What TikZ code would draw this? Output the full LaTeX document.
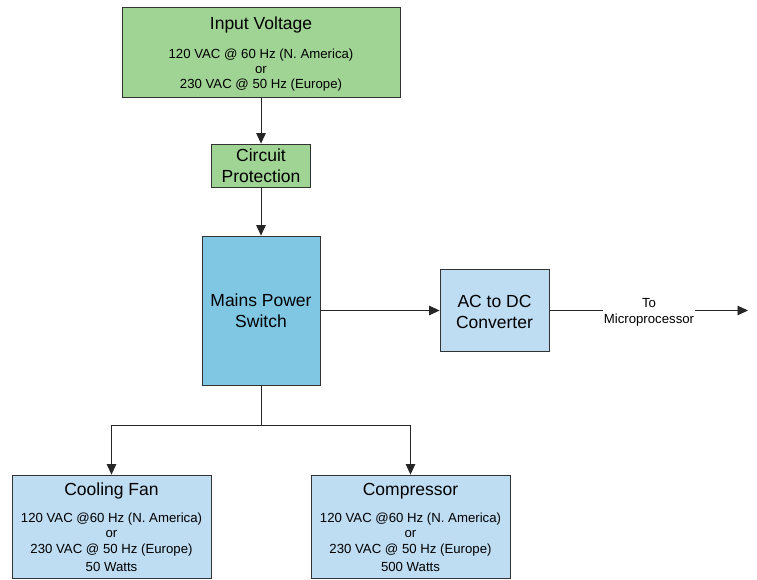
\documentclass[tikz,border=0pt]{standalone}
\usepackage{fontspec}
\setmainfont{Liberation Sans}
\usetikzlibrary{arrows.meta}
\definecolor{gfill}{RGB}{160,212,148}
\definecolor{mfill}{RGB}{127,199,227}
\definecolor{lfill}{RGB}{190,220,242}
\newcommand{\ttlfont}{\fontsize{17.5}{21}\selectfont}
\newcommand{\bdyfont}{\fontsize{13.2}{15.5}\selectfont}
\begin{document}
\begin{tikzpicture}[x=1pt,y=-1pt,
 box/.style={draw=black!80, line width=0.8pt, align=center, inner sep=0pt, font=\bdyfont},
 conn/.style={draw=black!85, line width=0.9pt},
 arr/.style={conn,-{Triangle[length=10.5pt,width=9.5pt]}}]
\useasboundingbox (0,0) rectangle (757,580);

\node[box, fill=gfill, minimum width=278pt, minimum height=90pt] (inp) at (261,52)
  {{\ttlfont\rule{0pt}{17pt}Input Voltage}\\[14pt]120 VAC @ 60 Hz (N. America)\\[-0.5pt]or\\[-0.5pt]230 VAC @ 50 Hz (Europe)};
\node[box, fill=gfill, font=\ttlfont, minimum width=99pt, minimum height=43pt] (cp) at (261,165.5)
  {Circuit\\Protection};
\node[box, fill=mfill, font=\ttlfont, minimum width=118pt, minimum height=149pt] (mains) at (261,310.5)
  {Mains Power\\Switch};
\node[box, fill=lfill, font=\ttlfont, minimum width=109pt, minimum height=82pt] (ac) at (494.5,310.5)
  {\rule{0pt}{15pt}AC to DC\\Converter};
\node[box, fill=lfill, minimum width=199pt, minimum height=103pt] (fan) at (111.5,526.5)
  {{\ttlfont\rule{0pt}{15pt}Cooling Fan}\\[11pt]120 VAC @60 Hz (N. America)\\or\\230 VAC @ 50 Hz (Europe)\\[3pt]50 Watts};
\node[box, fill=lfill, minimum width=199pt, minimum height=103pt] (comp) at (410.5,526.5)
  {{\ttlfont\rule{0pt}{15pt}Compressor}\\[11pt]120 VAC @60 Hz (N. America)\\or\\230 VAC @ 50 Hz (Europe)\\[3pt]500 Watts};

\node[fill=white, inner sep=1pt, font=\bdyfont, align=center] (lbl) at (649,312.5) {To\\[1pt]Microprocessor};
\coordinate (out) at (748,310.5);
\coordinate (split) at (261,425);

\draw[arr] (inp) -- (cp);
\draw[arr] (cp) -- (mains);
\draw[arr] (mains) -- (ac);
\draw[conn] (ac.east) -- (ac.east -| lbl.west);
\draw[arr] (ac.east -| lbl.east) -- (out);
\draw[conn] (mains) -- (split);
\draw[arr] (split) -| (fan.north);
\draw[arr] (split) -| (comp.north);
\end{tikzpicture}
\end{document}
